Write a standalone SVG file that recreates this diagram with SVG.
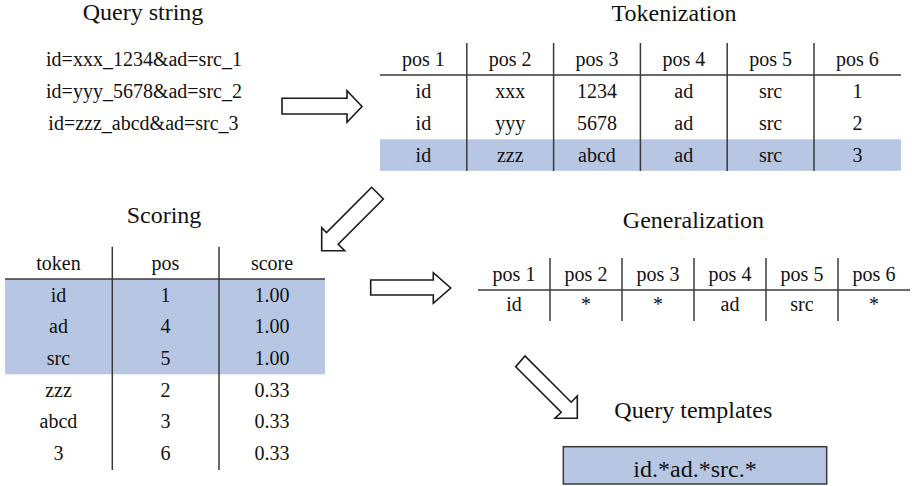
<svg xmlns="http://www.w3.org/2000/svg" width="912" height="486" viewBox="0 0 912 486" font-family="'Liberation Serif', 'Times New Roman', 'DejaVu Serif', serif">
<style>
text{font-family:'Liberation Serif','Times New Roman','DejaVu Serif',serif;fill:#111;text-anchor:middle}
.t{font-size:24px}
.c{font-size:20px}
.ln{stroke:#3a3a3a;stroke-width:1.5;fill:none}
.hl{fill:#b7c6e3}
.arr{fill:#fff;stroke:#1a1a1a;stroke-width:1.6;stroke-linejoin:miter}
</style>
<rect width="912" height="486" fill="#fff"/>

<g id="query-string">
<text class="t" x="143" y="20">Query string</text>
<text class="c" x="144" y="65.5">id=xxx_1234&amp;ad=src_1</text>
<text class="c" x="144" y="97.5">id=yyy_5678&amp;ad=src_2</text>
<text class="c" x="143.5" y="129.5">id=zzz_abcd&amp;ad=src_3</text>
</g>

<g id="tokenization">
<text class="t" x="674" y="20.5">Tokenization</text>
<rect class="hl" x="380" y="139.3" width="521" height="31.5"/>
<line class="ln" x1="380" y1="75" x2="901" y2="75"/>
<line class="ln" x1="466.8" y1="43" x2="466.8" y2="171"/>
<line class="ln" x1="553.6" y1="43" x2="553.6" y2="171"/>
<line class="ln" x1="640.4" y1="43" x2="640.4" y2="171"/>
<line class="ln" x1="727.2" y1="43" x2="727.2" y2="171"/>
<line class="ln" x1="814" y1="43" x2="814" y2="171"/>
<text class="c" x="423.4" y="66">pos 1</text>
<text class="c" x="510.2" y="66">pos 2</text>
<text class="c" x="597" y="66">pos 3</text>
<text class="c" x="683.8" y="66">pos 4</text>
<text class="c" x="770.6" y="66">pos 5</text>
<text class="c" x="857.4" y="66">pos 6</text>
<text class="c" x="423.4" y="98">id</text>
<text class="c" x="510.2" y="98">xxx</text>
<text class="c" x="597" y="98">1234</text>
<text class="c" x="683.8" y="98">ad</text>
<text class="c" x="770.6" y="98">src</text>
<text class="c" x="857.4" y="98">1</text>
<text class="c" x="423.4" y="130">id</text>
<text class="c" x="510.2" y="130">yyy</text>
<text class="c" x="597" y="130">5678</text>
<text class="c" x="683.8" y="130">ad</text>
<text class="c" x="770.6" y="130">src</text>
<text class="c" x="857.4" y="130">2</text>
<text class="c" x="423.4" y="161.5">id</text>
<text class="c" x="510.2" y="161.5">zzz</text>
<text class="c" x="597" y="161.5">abcd</text>
<text class="c" x="683.8" y="161.5">ad</text>
<text class="c" x="770.6" y="161.5">src</text>
<text class="c" x="857.4" y="161.5">3</text>
</g>

<g id="scoring">
<text class="t" x="164" y="223">Scoring</text>
<rect class="hl" x="5" y="279" width="320" height="95.3"/>
<line class="ln" x1="5" y1="279" x2="325" y2="279"/>
<line class="ln" x1="112.3" y1="246.7" x2="112.3" y2="470"/>
<line class="ln" x1="219" y1="246.7" x2="219" y2="470"/>
<text class="c" x="58.5" y="270">token</text>
<text class="c" x="165.5" y="270">pos</text>
<text class="c" x="272" y="270">score</text>
<text class="c" x="58.5" y="301.7">id</text>
<text class="c" x="165.5" y="301.7">1</text>
<text class="c" x="272" y="301.7">1.00</text>
<text class="c" x="58.5" y="333">ad</text>
<text class="c" x="165.5" y="333">4</text>
<text class="c" x="272" y="333">1.00</text>
<text class="c" x="58.5" y="365">src</text>
<text class="c" x="165.5" y="365">5</text>
<text class="c" x="272" y="365">1.00</text>
<text class="c" x="58.5" y="396.7">zzz</text>
<text class="c" x="165.5" y="396.7">2</text>
<text class="c" x="272" y="396.7">0.33</text>
<text class="c" x="58.5" y="428.3">abcd</text>
<text class="c" x="165.5" y="428.3">3</text>
<text class="c" x="272" y="428.3">0.33</text>
<text class="c" x="58.5" y="460">3</text>
<text class="c" x="165.5" y="460">6</text>
<text class="c" x="272" y="460">0.33</text>
</g>

<g id="generalization">
<text class="t" x="693.5" y="228">Generalization</text>
<line class="ln" x1="478" y1="290" x2="910" y2="290"/>
<line class="ln" x1="550" y1="258" x2="550" y2="321"/>
<line class="ln" x1="622" y1="258" x2="622" y2="321"/>
<line class="ln" x1="694" y1="258" x2="694" y2="321"/>
<line class="ln" x1="766" y1="258" x2="766" y2="321"/>
<line class="ln" x1="838" y1="258" x2="838" y2="321"/>
<text class="c" x="514" y="281">pos 1</text>
<text class="c" x="586" y="281">pos 2</text>
<text class="c" x="658" y="281">pos 3</text>
<text class="c" x="730" y="281">pos 4</text>
<text class="c" x="802" y="281">pos 5</text>
<text class="c" x="874" y="281">pos 6</text>
<text class="c" x="514" y="311">id</text>
<text class="c" x="586" y="311">*</text>
<text class="c" x="658" y="311">*</text>
<text class="c" x="730" y="311">ad</text>
<text class="c" x="802" y="311">src</text>
<text class="c" x="874" y="311">*</text>
</g>

<g id="query-templates">
<text class="t" x="693.3" y="418.3">Query templates</text>
<rect x="563.3" y="446.7" width="263.4" height="37.3" fill="#b7c6e3" stroke="#3a3a3a" stroke-width="1.5"/>
<text class="t" x="695" y="476.5">id.*ad.*src.*</text>
</g>

<g id="connectors">
<path class="arr" d="M282,98.3 L347,98.3 L347,90.7 L362,106.5 L347,122.3 L347,114 L282,114 Z"/>
<path class="arr" d="M371.7,187.3 L326.5,232.5 L321.7,227.7 L321.7,250.7 L344.7,250.7 L338.2,244.2 L383.3,199 Z"/>
<path class="arr" d="M370.7,280 L433.3,280 L433.3,272.7 L450.7,288 L433.3,303.3 L433.3,295 L370.7,295 Z"/>
<path class="arr" d="M515.7,366.7 L561.2,412.2 L555,418.3 L577.3,418.3 L577.3,396 L571.2,402.2 L525,356 Z"/>
</g>
</svg>
